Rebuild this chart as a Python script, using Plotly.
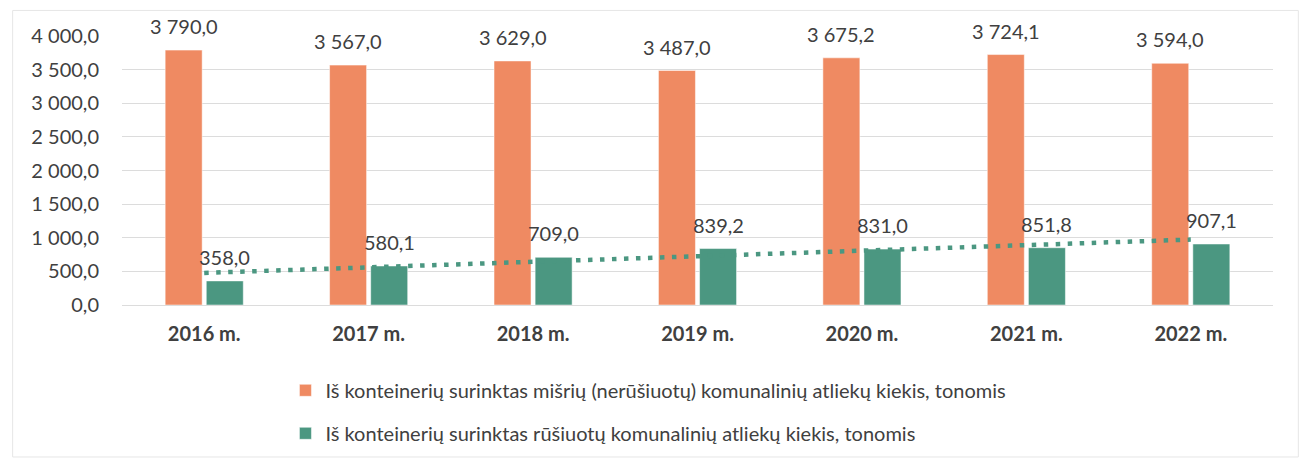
import numpy as np
import plotly.graph_objects as go

years = ["2016 m.", "2017 m.", "2018 m.", "2019 m.", "2020 m.", "2021 m.", "2022 m."]
mixed_waste = [3790.0, 3567.0, 3629.0, 3487.0, 3675.2, 3724.1, 3594.0]
sorted_waste = [358.0, 580.1, 709.0, 839.2, 831.0, 851.8, 907.1]
y_ticks = [0, 500, 1000, 1500, 2000, 2500, 3000, 3500, 4000]

name_mixed = "Iš konteinerių surinktas mišrių (nerūšiuotų) komunalinių atliekų kiekis, tonomis"
name_sorted = "Iš konteinerių surinktas rūšiuotų komunalinių atliekų kiekis, tonomis"

ORANGE = "#EF8A62"
GREEN = "#4B9781"
FONT = "Lato"


def lt(v):
    # lithuanian number format: "3 790,0"
    return f"{v:,.1f}".replace(",", " ").replace(".", ",")


# linear trendline of the sorted-waste series (like Excel's trendline)
idx = np.arange(len(years))
slope, intercept = np.polyfit(idx, sorted_waste, 1)
trend = slope * idx + intercept

fig = go.Figure()
fig.add_trace(go.Bar(
    name=name_mixed, x=years, y=mixed_waste,
    marker_color=ORANGE, legendgroup="a",
))
fig.add_trace(go.Bar(
    name=name_sorted, x=years, y=sorted_waste,
    marker_color=GREEN, legendgroup="b",
))
fig.add_trace(go.Scatter(
    x=years, y=trend, mode="lines", showlegend=False,
    line=dict(color=GREEN, width=4.5, dash="4.5px,7.5px"),
))

# data labels above bars
annotations = []
for i, (a, b) in enumerate(zip(mixed_waste, sorted_waste)):
    for xv, v in ((i - 0.125, a), (i + 0.125, b)):
        annotations.append(dict(
            x=xv, y=v, xref="x", yref="y", text=lt(v), showarrow=False,
            yanchor="bottom", yshift=10,
            font=dict(family=FONT, size=20, color="#404040"),
        ))

fig.update_layout(
    width=1304, height=464,
    template="plotly_white",
    paper_bgcolor="white", plot_bgcolor="white",
    margin=dict(l=122, r=31, t=36, b=158),
    barmode="group", bargap=0.5, bargroupgap=0.1,
    font=dict(family=FONT, color="#404040"),
    annotations=annotations,
    legend=dict(
        orientation="v", x=0.142, y=-0.24, xanchor="left", yanchor="top",
        font=dict(family=FONT, size=20, color="#404040"),
        tracegroupgap=14, traceorder="grouped",
        bgcolor="rgba(0,0,0,0)",
    ),
    shapes=[dict(
        type="rect", xref="paper", yref="paper",
        x0=-0.095, x1=1.022, y0=-0.565, y1=1.095,
        line=dict(color="#E6E6E6", width=1),
    )],
)
fig.update_xaxes(
    showgrid=False, showline=False, ticks="", automargin=False,
    tickfont=dict(family=FONT, size=20, color="#404040", weight="bold"),
    ticklabelstandoff=15,
)
fig.update_yaxes(
    range=[0, 4000], tickvals=y_ticks, automargin=False,
    ticktext=[lt(v) for v in y_ticks],
    showgrid=True, gridcolor="#DCDCDC", gridwidth=1,
    zeroline=True, zerolinecolor="#DCDCDC", zerolinewidth=1,
    tickfont=dict(family=FONT, size=20, color="#404040"),
    ticklabelstandoff=22,
)

fig.write_html(
    "out.html",
    config={"displayModeBar": False},
    post_script="document.body.style.margin='0';document.body.style.padding='0';",
)
